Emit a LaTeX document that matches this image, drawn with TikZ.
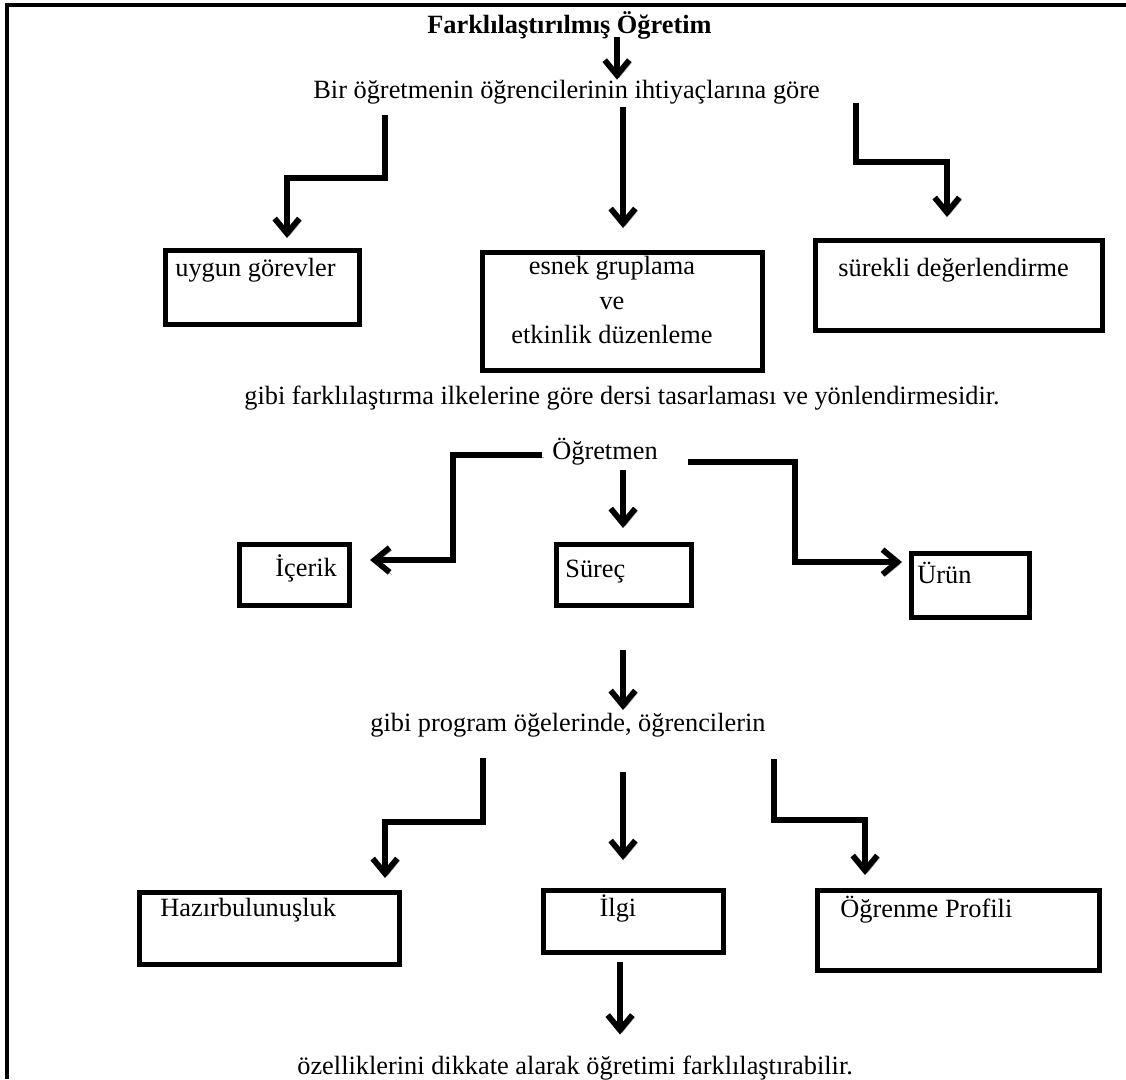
\documentclass[tikz,border=0pt]{standalone}
\usepackage{fontspec}
\setmainfont{Liberation Serif}
\usetikzlibrary{arrows.meta}
\tikzset{
  ok/.style={line width=3.3pt, -{Straight Barb[length=8.5pt,width=14pt]},
    preaction={draw=black!35, transform canvas={shift={(1.3pt,-1.3pt)}}}},
  kutu/.style={draw, line width=2.9pt, inner sep=0pt, anchor=north west},
  yazi/.style={font=\fontsize{15}{18}\selectfont, inner sep=0pt}
}
\begin{document}
\begin{tikzpicture}[x=0.02cm,y=-0.02cm]
    \useasboundingbox (0,0) rectangle (1126,1079);
    \draw [line width=2.8pt] (7,1079)--(7,5)--(1126,5);
    % ust bolum
    \node [yazi, font=\fontsize{15}{18}\selectfont\bfseries, anchor=west] (baslik) at (427,25) {Farklılaştırılmış Öğretim};
    \node [yazi, anchor=west] (bir) at (313,92) {Bir öğretmenin öğrencilerinin ihtiyaçlarına göre};
    \node [kutu, minimum width=3.88cm, minimum height=1.48cm] (uygun) at (163,248) {};
    \node [kutu, minimum width=5.6cm, minimum height=2.36cm] (esnek) at (480,250) {};
    \node [kutu, minimum width=5.74cm, minimum height=1.8cm] (surekli) at (813,238) {};
    \node [yazi, anchor=west] (uygunT) at (175,270) {uygun görevler};
    \node [yazi, align=center] (esnekT) at (612,300) {esnek gruplama\\[1.5pt] ve\\[1.5pt] etkinlik düzenleme};
    \node [yazi, anchor=west] (surekliT) at (838,270) {sürekli değerlendirme};
    \node [yazi] (gibi) at (622,398) {gibi farklılaştırma ilkelerine göre dersi tasarlaması ve yönlendirmesidir.};
    \coordinate (a0) at (617,37);
    \coordinate (a1) at (385,115);
    \coordinate (a1k) at (287,178);
    \coordinate (a2) at (623,107);
    \coordinate (a3) at (856,103);
    \coordinate (a3k) at (947,162);
    \draw [ok] (a0) -- (a0 |- bir.north);
    \draw [ok, shorten >=0.2cm] (a1) |- (a1k) -- (a1k |- uygun.north);
    \draw [ok, shorten >=0.44cm] (a2) -- (a2 |- esnek.north);
    \draw [ok, shorten >=0.42cm] (a3) |- (a3k) -- (a3k |- surekli.north);
    % orta bolum
    \node [yazi] (ogretmen) at (605,452) {Öğretmen};
    \node [kutu, minimum width=2.2cm, minimum height=1.22cm] (icerik) at (237,542) {};
    \node [kutu, minimum width=2.7cm, minimum height=1.22cm] (surec) at (554,542) {};
    \node [kutu, minimum width=2.36cm, minimum height=1.28cm] (urun) at (909,551) {};
    \node [yazi, anchor=west] (icerikT) at (275,568) {İçerik};
    \node [yazi, anchor=west] (surecT) at (565,572) {Süreç};
    \node [yazi, anchor=west] (urunT) at (917,573) {Ürün};
    \coordinate (b1) at (542,455);
    \coordinate (b1k) at (453,560);
    \coordinate (b2) at (623,470);
    \coordinate (b3) at (688,462);
    \coordinate (b3k) at (795,562);
    \draw [ok, shorten >=0.36cm] (b1) -| (b1k) -- (b1k -| icerik.east);
    \draw [ok, shorten >=0.28cm] (b2) -- (b2 |- surec.north);
    \draw [ok, shorten >=0.14cm] (b3) -| (b3k) -- (b3k -| urun.west);
    % alt bolum
    \node [yazi, anchor=west] (program) at (370,725) {gibi program öğelerinde, öğrencilerin};
    \coordinate (c0) at (623,650);
    \coordinate (c0u) at (623,710);
    \draw [ok] (c0) -- (c0u);
    \node [kutu, minimum width=5.2cm, minimum height=1.44cm] (hazir) at (137,890) {};
    \node [kutu, minimum width=3.6cm, minimum height=1.24cm] (ilgi) at (541,888) {};
    \node [kutu, minimum width=5.64cm, minimum height=1.6cm] (profil) at (815,888) {};
    \node [yazi, anchor=west] (hazirT) at (160,910) {Hazırbulunuşluk};
    \node [yazi] (ilgiT) at (618,908) {İlgi};
    \node [yazi, anchor=west] (profilT) at (840,910) {Öğrenme Profili};
    \coordinate (c1) at (483,758);
    \coordinate (c1k) at (385,822);
    \coordinate (c2) at (623,772);
    \coordinate (c3) at (774,759);
    \coordinate (c3k) at (865,820);
    \draw [ok, shorten >=0.24cm] (c1) |- (c1k) -- (c1k |- hazir.north);
    \draw [ok, shorten >=0.56cm] (c2) -- (c2 |- ilgi.north);
    \draw [ok, shorten >=0.26cm] (c3) |- (c3k) -- (c3k |- profil.north);
    \node [yazi, anchor=west] (son) at (297,1068) {özelliklerini dikkate alarak öğretimi farklılaştırabilir.};
    \coordinate (d0) at (620,962);
    \draw [ok, shorten >=0.42cm] (d0) -- (d0 |- son.north);
\end{tikzpicture}
\end{document}
